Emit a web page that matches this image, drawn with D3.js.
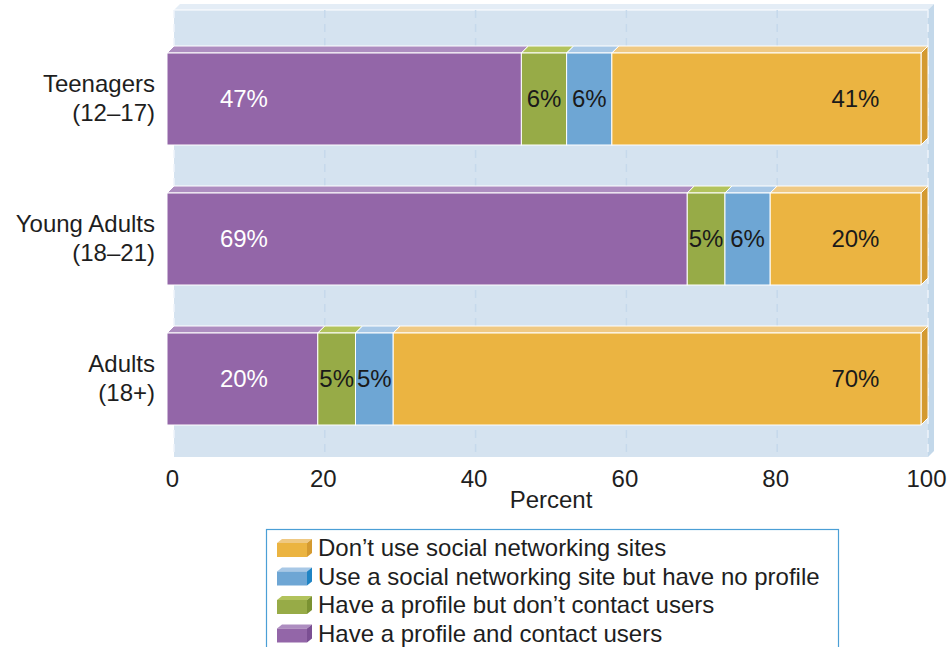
<!DOCTYPE html>
<html>
<head>
<meta charset="utf-8">
<script src="https://cdn.jsdelivr.net/npm/d3@7/dist/d3.min.js"></script>
<style>
  html, body { margin: 0; padding: 0; background: #fff; }
  svg { display: block; }
  text { font-family: "Liberation Sans", Arial, sans-serif; fill: #1e1e1e; }
</style>
</head>
<body>
<svg id="chart" width="952" height="647"></svg>
<script>
// ---- data ----
const categoryLine1 = ["Teenagers", "Young Adults", "Adults"];
const categoryLine2 = ["(12–17)", "(18–21)", "(18+)"];
const seriesNames = [
  "Have a profile and contact users",
  "Have a profile but don’t contact users",
  "Use a social networking site but have no profile",
  "Don’t use social networking sites"
];
const profileContact   = [47, 69, 20];
const profileNoContact = [6, 5, 5];
const useNoProfile     = [6, 6, 5];
const dontUse          = [41, 20, 70];
const tickValues = [0, 20, 40, 60, 80, 100];
const axisTitle = "Percent";

// ---- styles ----
const front = ["#9366a8", "#97ab47", "#6ea6d4", "#ebb441"];
const top_  = ["#ad8dc0", "#b2c35c", "#a8c8e6", "#efc983"];
const side  = ["#7b4f93", "#7b9232", "#1f84c4", "#d49a30"];
const FS = 24;

const svg = d3.select("#chart");
const D = 7; // 3D depth

const keys = ["a", "b", "c", "d"];
const rows = categoryLine1.map((c, i) => ({
  cat: c, a: profileContact[i], b: profileNoContact[i], c: useNoProfile[i], d: dontUse[i]
}));
const stacked = d3.stack().keys(keys)(rows);

const x = d3.scaleLinear().domain([0, 100]).range([174, 928]);
const y = d3.scaleBand().domain(categoryLine1).range([22, 442])
  .paddingInner(48 / 140).paddingOuter(24 / 140);

// ---- back wall ----
const wl = x(0), wr = x(100), wt = 10, wb = 457, wd = 6;
svg.append("polygon")
  .attr("points", [[wl, wt], [wl + wd, wt - wd], [wr + wd, wt - wd], [wr, wt]].join(" "))
  .attr("fill", "#e4edf6");
svg.append("polygon")
  .attr("points", [[wr, wt], [wr + wd, wt - wd], [wr + wd, wb - wd], [wr, wb]].join(" "))
  .attr("fill", "#c3d8ea");
svg.append("rect").attr("x", wl).attr("y", wt).attr("width", wr - wl).attr("height", wb - wt)
  .attr("fill", "#d5e3f0");
svg.append("line").attr("x1", wl).attr("x2", wr).attr("y1", wt).attr("y2", wt)
  .attr("stroke", "#ffffff").attr("stroke-width", 1.2);

// gridlines
svg.append("g").selectAll("line").data(tickValues).join("line")
  .attr("x1", d => x(d)).attr("x2", d => x(d))
  .attr("y1", wt).attr("y2", wb)
  .attr("stroke", d => (d === 0 || d === 100) ? "#eef4fa" : "#c6d9ec")
  .attr("stroke-width", 1.5)
  .attr("stroke-dasharray", "8,6");

// ---- bars ----
const gBars = svg.append("g");
stacked.forEach((layer, si) => {
  layer.forEach((seg, ri) => {
    const x0 = x(seg[0]) - D, x1 = x(seg[1]) - D;
    const yf = y(rows[ri].cat) + D, h = y.bandwidth();
    gBars.append("polygon")
      .attr("points", [[x0, yf], [x0 + D, yf - D], [x1 + D, yf - D], [x1, yf]].join(" "))
      .attr("fill", top_[si]).attr("stroke", "#fff").attr("stroke-width", 1);
    if (si === stacked.length - 1) {
      gBars.append("polygon")
        .attr("points", [[x1, yf], [x1 + D, yf - D], [x1 + D, yf - D + h], [x1, yf + h]].join(" "))
        .attr("fill", side[si]).attr("stroke", "#fff").attr("stroke-width", 1);
    }
    gBars.append("rect")
      .attr("x", x0).attr("y", yf).attr("width", x1 - x0).attr("height", h)
      .attr("fill", front[si]).attr("stroke", "#fff").attr("stroke-width", 1);
  });
});

// value labels
const gLab = svg.append("g");
stacked.forEach((layer, si) => {
  layer.forEach((seg, ri) => {
    let cx;
    if (si === 0) cx = x(10.2) - D;
    else if (si === 3) cx = x(91.3) - D;
    else cx = (x(seg[0]) + x(seg[1])) / 2 - D;
    const cy = y(rows[ri].cat) + D + y.bandwidth() / 2;
    gLab.append("text")
      .attr("x", cx).attr("y", cy + 8)
      .attr("text-anchor", "middle")
      .attr("font-size", FS)
      .style("fill", si === 0 ? "#ffffff" : "#1a1a1a")
      .text((seg[1] - seg[0]) + "%");
  });
});

// category labels
const gCat = svg.append("g");
categoryLine1.forEach((c, i) => {
  const cy = y(c) + D + y.bandwidth() / 2;
  const t = gCat.append("text").attr("text-anchor", "end").attr("font-size", FS);
  t.append("tspan").attr("x", 155).attr("y", cy - 7).text(c);
  t.append("tspan").attr("x", 155).attr("y", cy + 22).text(categoryLine2[i]);
});

// ---- x axis ----
const axis = d3.axisBottom(x).tickValues(tickValues).tickSize(0).tickPadding(0);
const gAxis = svg.append("g").attr("transform", "translate(-2,470)").call(axis);
gAxis.select(".domain").remove();
gAxis.selectAll("text").attr("font-size", FS).attr("font-family", "Liberation Sans, Arial, sans-serif")
  .style("fill", "#1e1e1e").attr("dy", "0.71em");

svg.append("text").attr("x", (x(0) + x(100)) / 2).attr("y", 508)
  .attr("text-anchor", "middle").attr("font-size", FS).text(axisTitle);

// ---- legend ----
const gLeg = svg.append("g");
gLeg.append("rect").attr("x", 266.5).attr("y", 529.5).attr("width", 572).attr("height", 130)
  .attr("fill", "#fff").attr("stroke", "#4b9fd6").attr("stroke-width", 1.2);
const legendOrder = [3, 2, 1, 0];
legendOrder.forEach((si, k) => {
  const base = 556 + k * 28.5;
  const fx = 277, fw = 30, fy = base - 13, fh = 14, d = 5;
  gLeg.append("polygon")
    .attr("points", [[fx, fy], [fx + d, fy - 4], [fx + fw + d, fy - 4], [fx + fw, fy]].join(" "))
    .attr("fill", top_[si]);
  gLeg.append("polygon")
    .attr("points", [[fx + fw, fy], [fx + fw + d, fy - 4], [fx + fw + d, fy + fh - 4], [fx + fw, fy + fh]].join(" "))
    .attr("fill", side[si]);
  gLeg.append("rect").attr("x", fx).attr("y", fy).attr("width", fw).attr("height", fh)
    .attr("fill", front[si]);
  gLeg.append("text").attr("x", 318).attr("y", base).attr("font-size", FS).text(seriesNames[si]);
});
</script>
</body>
</html>
